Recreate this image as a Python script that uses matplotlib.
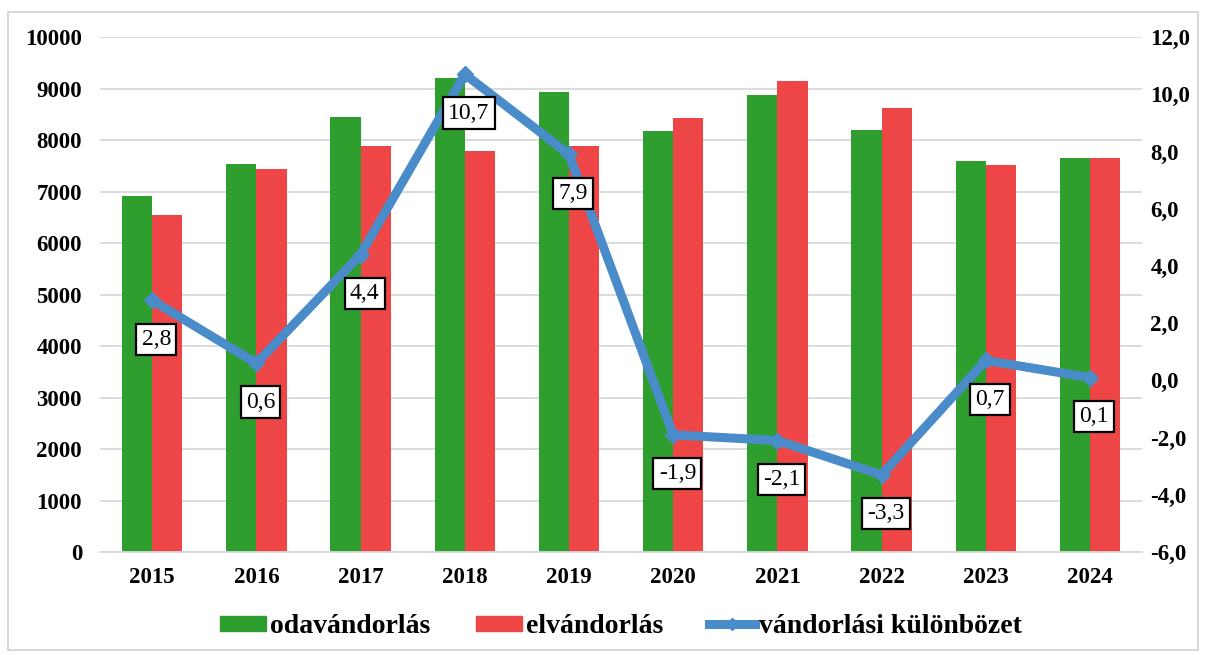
import numpy as np
import matplotlib
matplotlib.use('Agg')
import matplotlib.pyplot as plt
from matplotlib.patches import Rectangle, Patch
from matplotlib.lines import Line2D

# data
years = ['2015', '2016', '2017', '2018', '2019', '2020', '2021', '2022', '2023', '2024']
oda = [6910, 7530, 8450, 9200, 8930, 8170, 8870, 8190, 7590, 7650]
el = [6540, 7440, 7880, 7790, 7880, 8430, 9150, 8620, 7510, 7650]
kulonbozet = [2.8, 0.6, 4.4, 10.7, 7.9, -1.9, -2.1, -3.3, 0.7, 0.1]
labels = ['2,8', '0,6', '4,4', '10,7', '7,9', '-1,9', '-2,1', '-3,3', '0,7', '0,1']

green = '#2E9E2E'
red = '#EE4646'
blue = '#4A8BC9'

plt.rcParams['font.family'] = ['Liberation Serif', 'DejaVu Serif']

fig = plt.figure(figsize=(12.06, 6.55), dpi=100)
ax = fig.add_axes([0.083, 0.157, 0.864, 0.7865])

# gray frame round the whole chart
fig.patches.append(Rectangle((0.007, 0.008), 0.986, 0.974, transform=fig.transFigure,
                             fill=False, edgecolor='#D0D0D0', lw=1.2))

x = np.arange(len(years))
w = 0.29
ax.bar(x - w / 2, oda, w, color=green, zorder=2)
ax.bar(x + w / 2, el, w, color=red, zorder=2)

ax.set_ylim(0, 10000)
ax.set_xlim(-0.5, len(years) - 0.5)
ax.set_yticks(np.arange(0, 10001, 1000))
ax.set_xticks(x)
ax.set_xticklabels(years)
ax.grid(axis='y', color='#D9D9D9', lw=1.3, zorder=0)
for s in ['top', 'left', 'right']:
    ax.spines[s].set_visible(False)
ax.spines['bottom'].set_color('#D9D9D9')
ax.spines['bottom'].set_linewidth(1.3)
ax.tick_params(axis='both', length=0, labelsize=16.5)
ax.tick_params(axis='y', pad=13)
ax.tick_params(axis='x', pad=11)
for t in ax.get_xticklabels() + ax.get_yticklabels():
    t.set_fontweight('bold')

ax2 = ax.twinx()
ax2.plot(x, kulonbozet, color=blue, lw=6.5, marker='D', ms=8, zorder=3)
ax2.set_ylim(-6, 12)
ax2.set_yticks(np.arange(-6, 12.1, 2))
ax2.set_yticklabels([('%.1f' % v).replace('.', ',') for v in np.arange(-6, 12.1, 2)])
for s in ['top', 'left', 'right', 'bottom']:
    ax2.spines[s].set_visible(False)
ax2.tick_params(axis='y', length=0, labelsize=16.5, pad=6)
for t in ax2.get_yticklabels():
    t.set_fontweight('bold')

for xi, v, lab in zip(x, kulonbozet, labels):
    ax2.annotate(lab, (xi, v), xytext=(3, -28), textcoords='offset points',
                 ha='center', va='center', fontsize=17, zorder=5,
                 bbox=dict(boxstyle='square,pad=0.22', fc='white', ec='black', lw=1.6))

handles = [Patch(color=green), Patch(color=red),
           Line2D([], [], color=blue, lw=6.5, marker='D', ms=6)]
fig.legend(handles, ['odavándorlás', 'elvándorlás', 'vándorlási különbözet'],
           loc='center', bbox_to_anchor=(0.515, 0.043), ncol=3, frameon=False,
           prop={'size': 20, 'weight': 'bold'}, handlelength=1.65, handleheight=0.5,
           columnspacing=1.65, handletextpad=0.15)

plt.savefig('out.png', dpi=100)
